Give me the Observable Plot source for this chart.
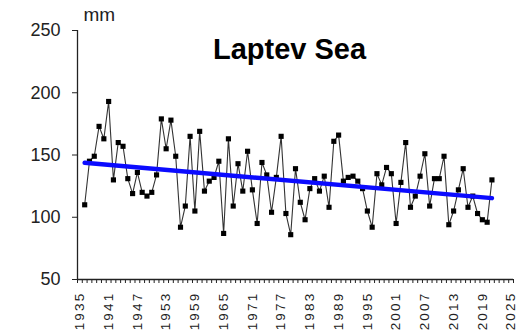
<!DOCTYPE html>
<html><head><meta charset="utf-8">
<script src="https://cdn.jsdelivr.net/npm/d3@7"></script>
<script src="https://cdn.jsdelivr.net/npm/@observablehq/plot@0.6"></script>
<style>
html,body{margin:0;padding:0;background:#fff;}
#chart svg{display:block;}
</style></head><body><div id="chart"></div>
<script>
const years = [1936,1937,1938,1939,1940,1941,1942,1943,1944,1945,1946,1947,1948,1949,1950,1951,1952,1953,1954,1955,1956,1957,1958,1959,1960,1961,1962,1963,1964,1965,1966,1967,1968,1969,1970,1971,1972,1973,1974,1975,1976,1977,1978,1979,1980,1981,1982,1983,1984,1985,1986,1987,1988,1989,1990,1991,1992,1993,1994,1995,1996,1997,1998,1999,2000,2001,2002,2003,2004,2005,2006,2007,2008,2009,2010,2011,2012,2013,2014,2015,2016,2017,2018,2019,2020,2021];
const precip = [110,145,149,173,163,193,130,160,157,131,119,136,120,117,120,134,179,155,178,149,92,109,165,105,169,121,129,132,145,87,163,109,143,121,153,122,95,144,134,104,132,165,103,86,139,112,98,123,131,121,133,108,161,166,129,132,133,129,123,105,92,135,126,140,135,95,128,160,108,117,133,151,109,131,131,149,94,105,122,139,108,117,103,98,96,130];
const xTickLabels = [1935,1941,1947,1953,1959,1965,1971,1977,1983,1989,1995,2001,2007,2013,2019,2025];
const yTicks = [50,100,150,200,250];
const xCategories = [1934.5, 2025.5];
const title = "Laptev Sea";
const unit = "mm";

const data = years.map((y, i) => ({year: y, value: precip[i]}));
const xBoundaries = d3.range(xCategories[0], xCategories[1] + 0.5, 1);

const chart = Plot.plot({
  width: 520,
  height: 332,
  marginLeft: 77,
  marginRight: 7,
  marginTop: 30,
  marginBottom: 53,
  style: {fontFamily: "'Liberation Sans', Arial, sans-serif", fontSize: "18px", color: "#222", background: "#fff"},
  x: {domain: xCategories, ticks: xBoundaries, tickSize: 4, tickFormat: () => "", label: null},
  y: {domain: [50, 250], ticks: yTicks, tickSize: 5, tickPadding: 12, label: null},
  marks: [
    Plot.ruleX([xCategories[0]], {y1: 50, y2: 250, stroke: "#222", strokeWidth: 1.3}),
    Plot.ruleY([50], {stroke: "#222", strokeWidth: 1.3}),
    Plot.line(data, {x: "year", y: "value", stroke: "#333", strokeWidth: 1.1}),
    Plot.dot(data, {x: "year", y: "value", symbol: "square", r: 2.9, fill: "#000", stroke: "none"}),
    Plot.linearRegressionY(data, {x: "year", y: "value", stroke: "#0b0bff", strokeWidth: 4.5, ci: 0}),
    Plot.text(xTickLabels, {x: d => d, y: 50, text: d => String(d), rotate: -90, textAnchor: "end", dy: 12, fontSize: 13.5, fill: "#222"}),
    Plot.text([title], {frameAnchor: "top", lineAnchor: "top", dy: 8, dx: -6, fontSize: 29, fontWeight: "bold", fill: "#000"}),
    Plot.text([unit], {frameAnchor: "top-left", lineAnchor: "bottom", textAnchor: "start", dx: 6, dy: -10, fontSize: 19, fill: "#222"})
  ]
});
d3.select(chart).selectAll('g[aria-label="text"] text').filter(function(){ return /^\d{4}$/.test(this.textContent); }).style("letter-spacing", "2.2px");
document.getElementById("chart").appendChild(chart);
</script></body></html>
